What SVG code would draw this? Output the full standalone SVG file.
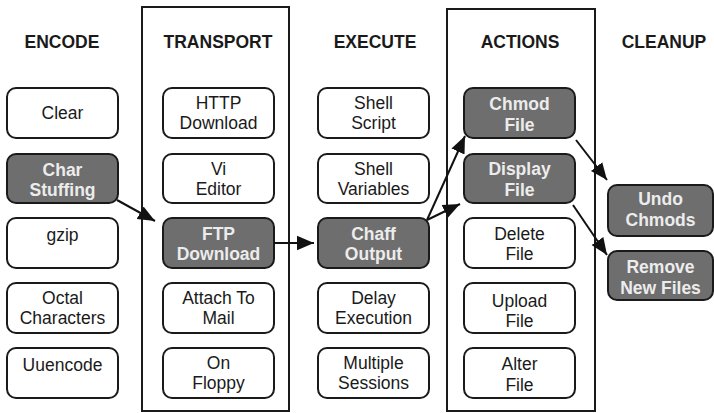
<svg xmlns="http://www.w3.org/2000/svg" width="714" height="413" viewBox="0 0 714 413">
<defs>
<style>
.frame{fill:none;stroke:#1a1a1a;stroke-width:2}
.n rect{fill:#fff;stroke:#1a1a1a;stroke-width:2}
.n text{font-family:"Liberation Sans",Arial,sans-serif;font-size:17.5px;fill:#1a1a1a;text-anchor:middle}
.g rect{fill:#6e6e6e;stroke:#1a1a1a;stroke-width:2}
.g text{font-family:"Liberation Sans",Arial,sans-serif;font-size:17.5px;font-weight:bold;fill:#ececec;text-anchor:middle}
.h{font-family:"Liberation Sans",Arial,sans-serif;font-size:17.5px;font-weight:bold;fill:#1a1a1a;text-anchor:middle}
.c line{stroke:#111;stroke-width:2;marker-end:url(#ah)}
</style>
<marker id="ah" viewBox="0 0 10 10" refX="10" refY="5" markerWidth="17" markerHeight="17" markerUnits="userSpaceOnUse" orient="auto">
<path d="M0,0.8 L10,5 L0,9.2 z" fill="#111"/>
</marker>
</defs>
<rect width="714" height="413" fill="#fff"/>
<rect class="frame" x="142" y="7" width="147" height="404"/>
<rect class="frame" x="447" y="9" width="148" height="402"/>
<g id="headers">
<text class="h" x="62" y="48">ENCODE</text>
<text class="h" x="218" y="48">TRANSPORT</text>
<text class="h" x="375" y="48">EXECUTE</text>
<text class="h" x="520" y="48">ACTIONS</text>
<text class="h" x="664" y="48">CLEANUP</text>
</g>
<g id="clear" class="n"><rect x="7" y="88" width="111" height="50" rx="9"/><text x="62.5" y="119">Clear</text></g>
<g id="charstuffing" class="g"><rect x="7" y="154" width="111" height="49" rx="9"/><text x="62.5" y="176">Char</text><text x="62.5" y="196">Stuffing</text></g>
<g id="gzip" class="n"><rect x="7" y="218" width="111" height="50" rx="9"/><text x="62.5" y="241">gzip</text></g>
<g id="octal" class="n"><rect x="7" y="283" width="111" height="50" rx="9"/><text x="62.5" y="304">Octal</text><text x="62.5" y="324">Characters</text></g>
<g id="uuencode" class="n"><rect x="7" y="348" width="111" height="50" rx="9"/><text x="62.5" y="371">Uuencode</text></g>

<g id="http" class="n"><rect x="163" y="88" width="111" height="50" rx="9"/><text x="218.5" y="109">HTTP</text><text x="218.5" y="129">Download</text></g>
<g id="vi" class="n"><rect x="163" y="154" width="111" height="49" rx="9"/><text x="218.5" y="175">Vi</text><text x="218.5" y="195">Editor</text></g>
<g id="ftp" class="g"><rect x="163" y="218" width="111" height="50" rx="9"/><text x="218.5" y="240">FTP</text><text x="218.5" y="260">Download</text></g>
<g id="attach" class="n"><rect x="163" y="283" width="111" height="50" rx="9"/><text x="218.5" y="304">Attach To</text><text x="218.5" y="324">Mail</text></g>
<g id="floppy" class="n"><rect x="163" y="348" width="111" height="50" rx="9"/><text x="218.5" y="369">On</text><text x="218.5" y="389">Floppy</text></g>

<g id="shellscript" class="n"><rect x="318" y="88" width="111" height="50" rx="9"/><text x="373.5" y="109">Shell</text><text x="373.5" y="129">Script</text></g>
<g id="shellvars" class="n"><rect x="318" y="154" width="111" height="49" rx="9"/><text x="373.5" y="175">Shell</text><text x="373.5" y="195">Variables</text></g>
<g id="chaff" class="g"><rect x="318" y="218" width="111" height="50" rx="9"/><text x="373.5" y="240">Chaff</text><text x="373.5" y="260">Output</text></g>
<g id="delay" class="n"><rect x="318" y="283" width="111" height="50" rx="9"/><text x="373.5" y="304">Delay</text><text x="373.5" y="324">Execution</text></g>
<g id="multiple" class="n"><rect x="318" y="348" width="111" height="50" rx="9"/><text x="373.5" y="369">Multiple</text><text x="373.5" y="389">Sessions</text></g>

<g id="chmod" class="g"><rect x="464" y="88" width="111" height="50" rx="9"/><text x="519.5" y="110">Chmod</text><text x="519.5" y="131">File</text></g>
<g id="display" class="g"><rect x="464" y="154" width="111" height="49" rx="9"/><text x="519.5" y="175">Display</text><text x="519.5" y="196">File</text></g>
<g id="delete" class="n"><rect x="464" y="218" width="111" height="50" rx="9"/><text x="519.5" y="240">Delete</text><text x="519.5" y="260">File</text></g>
<g id="upload" class="n"><rect x="464" y="283" width="111" height="50" rx="9"/><text x="519.5" y="307">Upload</text><text x="519.5" y="327">File</text></g>
<g id="alter" class="n"><rect x="464" y="348" width="111" height="50" rx="9"/><text x="519.5" y="370">Alter</text><text x="519.5" y="391">File</text></g>

<g id="undo" class="g"><rect x="608" y="185" width="105" height="51" rx="9"/><text x="660.5" y="205">Undo</text><text x="660.5" y="226">Chmods</text></g>
<g id="remove" class="g"><rect x="608" y="251" width="105" height="49" rx="9"/><text x="660.5" y="273">Remove</text><text x="660.5" y="294">New Files</text></g>

<g id="connectors" class="c">
<line x1="117" y1="200" x2="155" y2="221"/>
<line x1="274" y1="243" x2="314" y2="243"/>
<line x1="427" y1="220" x2="465" y2="136"/>
<line x1="427" y1="220" x2="460" y2="204"/>
<line x1="576" y1="140" x2="607" y2="180"/>
<line x1="573" y1="205" x2="607" y2="255"/>
</g>
</svg>
